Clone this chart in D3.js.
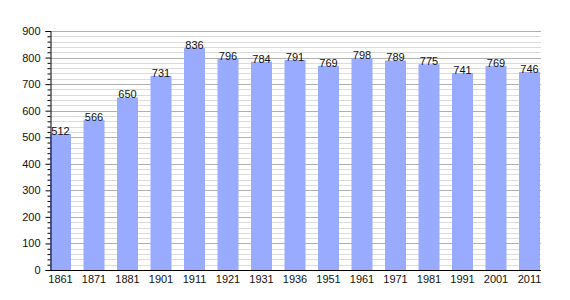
<!DOCTYPE html>
<html>
<head>
<meta charset="utf-8">
<script src="https://d3js.org/d3.v7.min.js"></script>
<style>
  body { margin: 0; background: #fff; }
  text { font-family: "Liberation Sans", Arial, sans-serif; }
</style>
</head>
<body>
<div id="chart"></div>
<script>
var years = ["1861","1871","1881","1901","1911","1921","1931","1936","1951","1961","1971","1981","1991","2001","2011"];
var population = [512, 566, 650, 731, 836, 796, 784, 791, 769, 798, 789, 775, 741, 769, 746];
var yTicks = [0, 100, 200, 300, 400, 500, 600, 700, 800, 900];

var width = 570, height = 300;
var plotLeft = 50, plotRight = 540, plotTop = 31, plotBottom = 270;

var svg = d3.select("#chart").append("svg")
    .attr("width", width)
    .attr("height", height);

var x = d3.scaleBand()
    .domain(years)
    .range([plotLeft, plotRight])
    .paddingInner(0.373)
    .paddingOuter(0);

var y = d3.scaleLinear()
    .domain([0, 900])
    .range([plotBottom, plotTop]);

// minor grid every 20
var minor = d3.range(0, 901, 20).filter(function (v) { return v % 100 != 0; });
svg.append("g")
    .selectAll("line")
    .data(minor)
    .enter().append("line")
    .attr("x1", plotLeft).attr("x2", plotRight + 1)
    .attr("y1", function (d) { return Math.round(y(d)) + 0.5; })
    .attr("y2", function (d) { return Math.round(y(d)) + 0.5; })
    .attr("stroke", "#dcdcdc")
    .attr("stroke-width", 1);

// major grid every 100
svg.append("g")
    .selectAll("line")
    .data(yTicks.slice(1))
    .enter().append("line")
    .attr("x1", plotLeft).attr("x2", plotRight + 1)
    .attr("y1", function (d) { return Math.round(y(d)) + 0.5; })
    .attr("y2", function (d) { return Math.round(y(d)) + 0.5; })
    .attr("stroke", "#b0b0b0")
    .attr("stroke-width", 1);

// bars
svg.append("g")
    .selectAll("rect")
    .data(population)
    .enter().append("rect")
    .attr("x", function (d, i) { return x(years[i]); })
    .attr("y", function (d) { return y(d); })
    .attr("width", x.bandwidth())
    .attr("height", function (d) { return plotBottom - y(d); })
    .attr("fill", "#99abff");

// value labels
svg.append("g")
    .selectAll("text")
    .data(population)
    .enter().append("text")
    .attr("x", function (d, i) { return x(years[i]) + x.bandwidth() / 2; })
    .attr("y", function (d) { return y(d) + 1; })
    .attr("text-anchor", "middle")
    .style("font-size", "11px")
    .style("fill", "#111")
    .text(function (d) { return d; });

// y axis
var yAxis = d3.axisLeft(y).tickValues(yTicks).tickSize(5).tickPadding(5);
var gy = svg.append("g")
    .attr("transform", "translate(" + (plotLeft + 0.5) + ",0)")
    .call(yAxis);
gy.select(".domain").attr("stroke", "#000");
gy.selectAll("text").style("font-size", "11px").style("fill", "#111");

var gyMinor = svg.append("g")
    .attr("transform", "translate(" + (plotLeft + 0.5) + ",0)")
    .call(d3.axisLeft(y).tickValues(minor).tickSize(3).tickFormat(""));
gyMinor.select(".domain").remove();

// x axis
var gx = svg.append("g")
    .attr("transform", "translate(0," + (plotBottom + 0.5) + ")")
    .call(d3.axisBottom(x).tickSize(0).tickPadding(5));
gx.select(".domain").attr("stroke", "#000").attr("d", "M" + plotLeft + ",0H" + (plotRight + 1));
gx.selectAll("text").style("font-size", "11px").style("fill", "#111");
</script>
</body>
</html>
